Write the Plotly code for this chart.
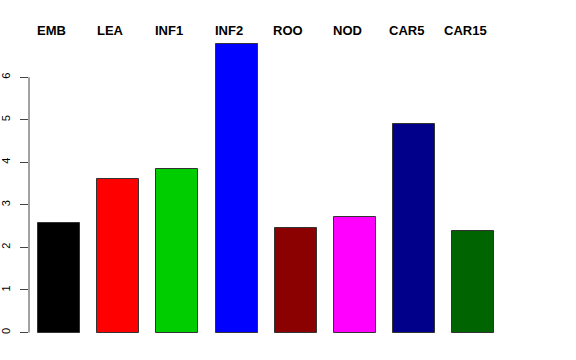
import plotly.graph_objects as go

categories = ["EMB", "LEA", "INF1", "INF2", "ROO", "NOD", "CAR5", "CAR15"]
values = [2.58, 3.62, 3.85, 6.77, 2.46, 2.72, 4.89, 2.39]
colors = ["#000000", "#FF0000", "#00CD00", "#0000FF", "#8B0000", "#FF00FF", "#00008B", "#006400"]
y_ticks = [0, 1, 2, 3, 4, 5, 6]

xpos = list(range(len(categories)))

fig = go.Figure()
fig.add_trace(go.Bar(
    x=xpos, y=values, width=0.71,
    marker=dict(color=colors, line=dict(color="#333333", width=1)),
    hoverinfo="skip",
))

for i, c in enumerate(categories):
    fig.add_annotation(
        x=i, y=1, xref="x", yref="paper", text="<b>%s</b>" % c,
        showarrow=False, xanchor="center", yanchor="middle", xshift=-8, yshift=2.5,
        font=dict(family="Liberation Sans, Arial, sans-serif", size=13, color="black"),
    )

# R-style axis line only spanning the tick range
fig.add_shape(type="line", xref="paper", yref="y", x0=0, x1=0,
              y0=y_ticks[0], y1=y_ticks[-1], line=dict(color="#444444", width=1))

fig.update_layout(
    width=576, height=360,
    margin=dict(l=29, r=73, t=32.5, b=16, pad=0, autoexpand=False),
    paper_bgcolor="white", plot_bgcolor="white",
    showlegend=False,
    bargap=0,
    xaxis=dict(range=[-0.507, 7.5], visible=False, fixedrange=True, automargin=False),
    yaxis=dict(
        range=[-0.27, 7.04], tickvals=y_ticks, ticktext=[str(t) for t in y_ticks],
        ticks="outside", ticklen=8, tickcolor="#444444", tickwidth=1,
        showgrid=False, zeroline=False, showline=False, tickangle=-90, automargin=False,
        ticklabelstandoff=6,
        tickfont=dict(family="Liberation Sans, Arial, sans-serif", size=11, color="black"),
    ),
)

fig.write_html("out.html", config={"displayModeBar": False},
               post_script="document.body.style.margin='0';")
